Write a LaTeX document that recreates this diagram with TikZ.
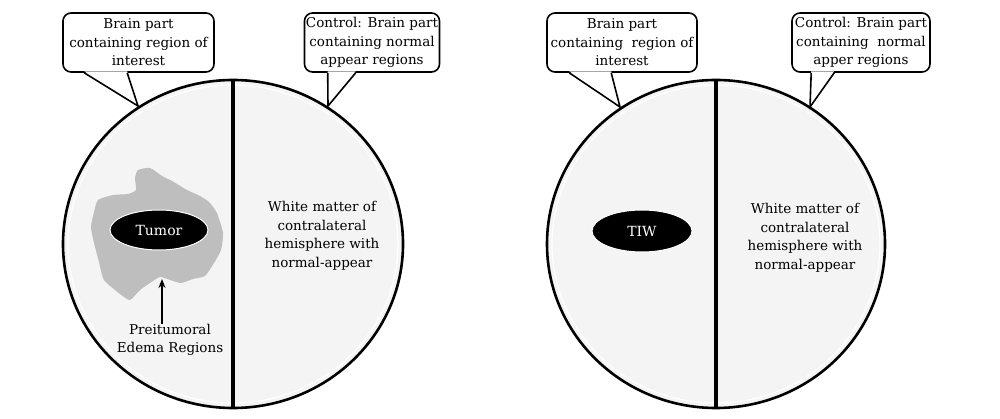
\documentclass[tikz,border=0pt]{standalone}
\usepackage{fontspec}
\setmainfont{DejaVu Serif}
\usetikzlibrary{shapes.geometric,arrows.meta,calc}
\definecolor{brainfill}{RGB}{244,244,244}
\definecolor{edema}{RGB}{190,190,190}
\begin{document}
\begin{tikzpicture}[x=1pt,y=-1pt,
  txt/.style={align=center,font=\fontsize{13.5}{18.5}\selectfont,inner sep=0pt},
  callout/.style={draw,line width=1.6pt,rounded corners=8pt,fill=white,minimum height=59pt,
     align=center,font=\fontsize{13.5}{18.5}\selectfont,inner sep=1pt},
  brain/.style={draw,line width=2.6pt,fill=brainfill},
  divider/.style={line width=3.6pt},
  blob/.style={black,fill=black,draw=white,line width=1pt,ellipse,text=white,
     font=\fontsize{14}{18}\selectfont,inner sep=0pt},
  tail/.style={line width=1.6pt},
  edgearrow/.style={line width=2.2pt,-{Stealth[length=9pt,width=7pt]}}]
\useasboundingbox (0,0) rectangle (1000,419);
\fill[white] (0,0) rectangle (1000,419);

% ---- left brain ----
\draw[brain] (233,244) ellipse [x radius=170,y radius=164];
\draw[white,line width=1.2pt] (233,244) ellipse [x radius=165,y radius=159];
\fill[edema] plot[smooth cycle,tension=0.35] coordinates {
 (138,170) (150,168) (162,176) (172,181) (187,190) (200,196) (209,202) (217,213)
 (223,233) (221,250) (214,263) (205,276) (193,279) (181,283) (170,280) (160,277)
 (150,283) (140,290) (130,300) (120,294) (104,280) (99,262) (94,243) (91,227)
 (94,212) (98,200) (113,195) (128,194) (136,190) (135,178)};
\draw[divider] (233,80) -- (233,408);
\node[blob,minimum width=98pt,minimum height=40pt] (tumor) at (159,230) {Tumor};
\node[txt] (edemalabel) at (170,340) {Preitumoral\\Edema Regions};
\coordinate (edemapt) at (162,279);
\draw[edgearrow] (edemalabel.north -| edemapt) -- (edemapt);
\node[txt] (wmL) at (322,236) {White matter of\\contralateral\\hemisphere with\\normal-appear};

\node[callout,minimum width=151pt] (L1) at (138.5,42.5) {Brain part\\containing region of\\interest};
\node[callout,minimum width=135pt] (L2) at (372,42.5) {Control: Brain part\\containing normal\\appear regions};
\coordinate (L1tip) at (138,106);
\coordinate (L2tip) at (328,106);
\fill[white] ($(L1.south west)+(22,-1.5)$) -- (L1tip) -- ($(L1.south west)+(65,-1.5)$) -- cycle;
\draw[tail] ($(L1.south west)+(22,0)$) -- (L1tip) -- ($(L1.south west)+(65,0)$);
\fill[white] ($(L2.south west)+(24,-1.5)$) -- (L2tip) -- ($(L2.south west)+(52,-1.5)$) -- cycle;
\draw[tail] ($(L2.south west)+(24,0)$) -- (L2tip) -- ($(L2.south west)+(52,0)$);

% ---- right brain ----
\draw[brain] (716,244) ellipse [x radius=169,y radius=164];
\draw[white,line width=1.2pt] (716,244) ellipse [x radius=164,y radius=159];
\draw[divider] (716,80) -- (716,408);
\node[blob,minimum width=100pt,minimum height=42pt] (tiw) at (642,231) {TIW};
\node[txt] (wmR) at (805,238) {White matter of\\contralateral\\hemisphere with\\normal-appear};

\node[callout,minimum width=150pt] (R1) at (622,42.5) {Brain part\\containing\ \ region of\\interest};
\node[callout,minimum width=138pt] (R2) at (861,42.5) {Control: Brain part\\containing\ \ normal\\apper regions};
\coordinate (R1tip) at (620,107);
\coordinate (R2tip) at (810,107);
\fill[white] ($(R1.south west)+(23,-1.5)$) -- (R1tip) -- ($(R1.south west)+(65,-1.5)$) -- cycle;
\draw[tail] ($(R1.south west)+(23,0)$) -- (R1tip) -- ($(R1.south west)+(65,0)$);
\fill[white] ($(R2.south west)+(20,-1.5)$) -- (R2tip) -- ($(R2.south west)+(43,-1.5)$) -- cycle;
\draw[tail] ($(R2.south west)+(20,0)$) -- (R2tip) -- ($(R2.south west)+(43,0)$);
\end{tikzpicture}
\end{document}
